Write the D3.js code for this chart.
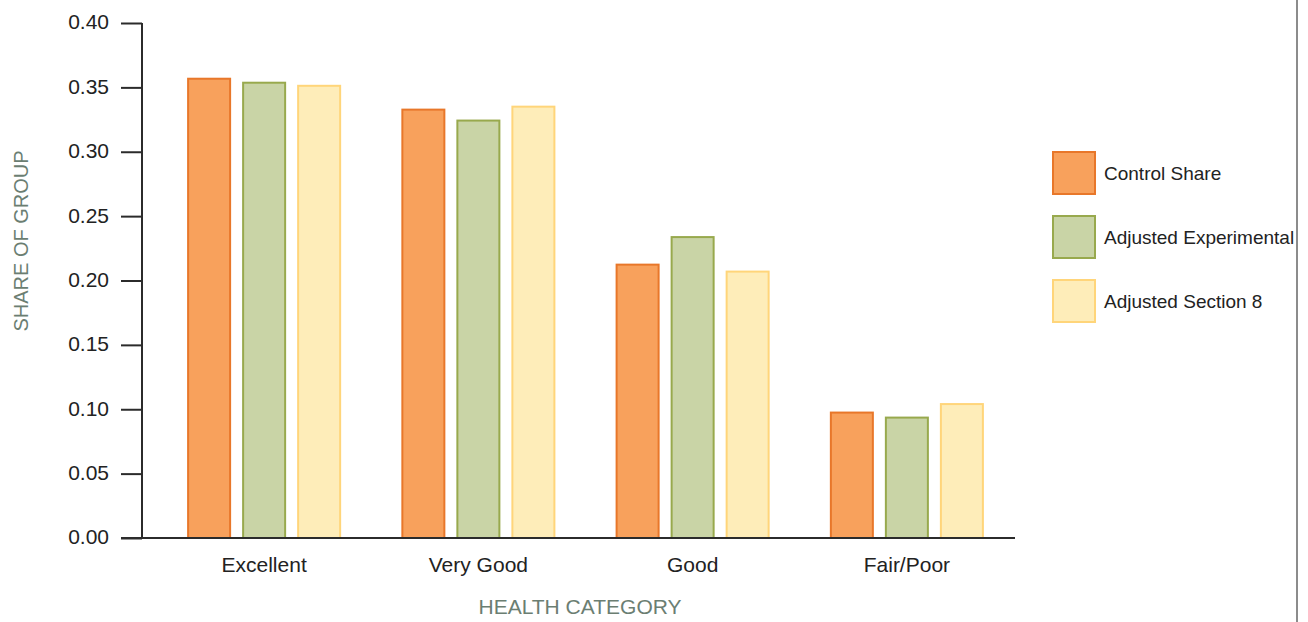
<!DOCTYPE html>
<html>
<head>
<meta charset="utf-8">
<script src="https://cdn.jsdelivr.net/npm/d3@7"></script>
<style>
  html, body { margin: 0; padding: 0; background: #fff; }
  svg { display: block; font-family: "Liberation Sans", Arial, Helvetica, sans-serif; }
</style>
</head>
<body>
<svg id="chart" width="1308" height="622"></svg>
<script>
const categories = ["Excellent", "Very Good", "Good", "Fair/Poor"];
const seriesNames = ["Control Share", "Adjusted Experimental", "Adjusted Section 8"];
const controlShare = [0.3575, 0.3335, 0.2131, 0.0982];
const adjustedExperimental = [0.3544, 0.3250, 0.2345, 0.0943];
const adjustedSection8 = [0.3520, 0.3358, 0.2077, 0.1048];
const yTicks = [0, 0.05, 0.10, 0.15, 0.20, 0.25, 0.30, 0.35, 0.40];
const fillColors = ["#F8A15C", "#C9D4A6", "#FEEDB9"];
const strokeColors = ["#E8772A", "#98A94D", "#FFD57A"];

const seriesValues = [controlShare, adjustedExperimental, adjustedSection8];
const data = categories.map((c, i) => ({
  category: c,
  values: seriesNames.map((s, j) => ({ series: s, value: seriesValues[j][i] }))
}));

const svg = d3.select("#chart");

const y = d3.scaleLinear().domain([0, 0.40]).range([538, 23]);
const x0 = d3.scaleBand().domain(categories).range([157, 1014])
  .paddingInner(0.281).paddingOuter(0.1405);
const x1 = d3.scaleBand().domain(seriesNames).range([0, x0.bandwidth()])
  .paddingInner(0.2).paddingOuter(0);
const color = d3.scaleOrdinal().domain(seriesNames).range(fillColors);
const stroke = d3.scaleOrdinal().domain(seriesNames).range(strokeColors);

// right border line
svg.append("line")
  .attr("x1", 1297).attr("x2", 1297).attr("y1", 0).attr("y2", 622)
  .attr("stroke", "#8c8c8c").attr("stroke-width", 2);

// bars
const groups = svg.append("g").selectAll("g").data(data).join("g")
  .attr("transform", d => `translate(${x0(d.category)},0)`);
groups.selectAll("rect").data(d => d.values).join("rect")
  .attr("x", d => x1(d.series) + 1)
  .attr("width", x1.bandwidth() - 2)
  .attr("y", d => y(d.value) + 1)
  .attr("height", d => y(0) - y(d.value) - 1)
  .attr("fill", d => color(d.series))
  .attr("stroke", d => stroke(d.series))
  .attr("stroke-width", 2);

// y axis
const yAxis = d3.axisLeft(y).tickValues(yTicks).tickFormat(d3.format(".2f"))
  .tickSize(21).tickPadding(12);
const gy = svg.append("g").attr("transform", "translate(142,0)").call(yAxis);
gy.select(".domain").remove();
gy.selectAll(".tick line").attr("stroke", "#2b2b2b").attr("stroke-width", 2);
gy.selectAll(".tick text").attr("fill", "#222").attr("dy", "0.28em").style("font-size", "21px")
  .style("font-family", "'Liberation Sans', Arial, sans-serif");
svg.append("line").attr("x1", 142).attr("x2", 142).attr("y1", y(0.40)).attr("y2", y(0) + 1)
  .attr("stroke", "#2b2b2b").attr("stroke-width", 2);

// x axis
const xAxis = d3.axisBottom(x0).tickSize(0).tickPadding(19);
const gx = svg.append("g").attr("transform", `translate(0,${y(0)})`).call(xAxis);
gx.select(".domain").remove();
gx.selectAll(".tick text").attr("fill", "#222").style("font-size", "21px")
  .style("font-family", "'Liberation Sans', Arial, sans-serif");
svg.append("line").attr("x1", 121).attr("x2", 1015).attr("y1", y(0)).attr("y2", y(0))
  .attr("stroke", "#2b2b2b").attr("stroke-width", 2);

// axis titles
svg.append("text").attr("x", 580).attr("y", 614).attr("text-anchor", "middle")
  .attr("fill", "#6b7e72").style("font-size", "21px").text("HEALTH CATEGORY");
svg.append("text").attr("transform", "translate(28,241) rotate(-90)")
  .attr("text-anchor", "middle").attr("fill", "#6b7e72").style("font-size", "20px")
  .text("SHARE OF GROUP");

// legend
const legend = svg.append("g").selectAll("g").data(seriesNames).join("g")
  .attr("transform", (d, i) => `translate(1052,${151 + i * 64})`);
legend.append("rect").attr("x", 1).attr("y", 1).attr("width", 42).attr("height", 42)
  .attr("fill", d => color(d)).attr("stroke", d => stroke(d)).attr("stroke-width", 2);
legend.append("text").attr("x", 52).attr("y", 29).attr("fill", "#222")
  .style("font-size", "19px").text(d => d);
</script>
</body>
</html>
